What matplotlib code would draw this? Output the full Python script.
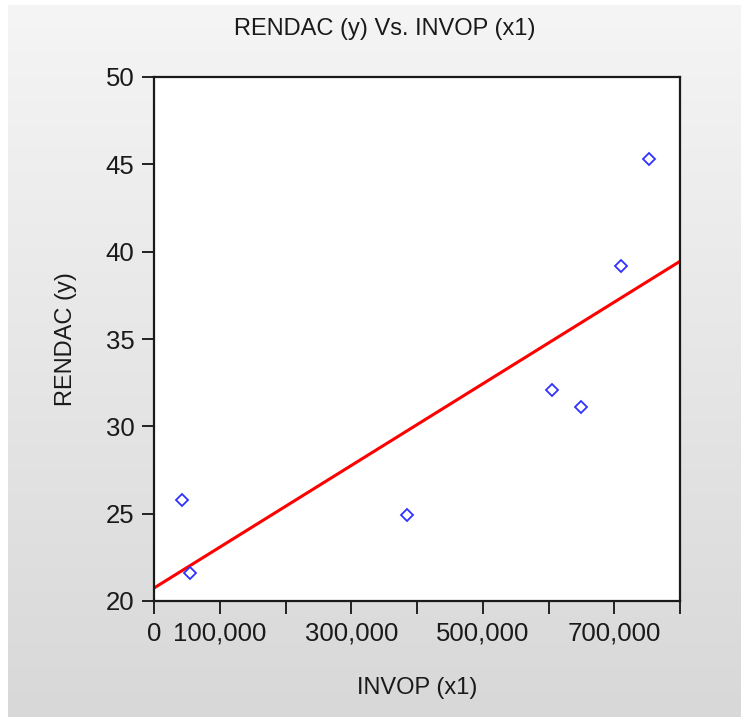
import numpy as np
import matplotlib
matplotlib.use("Agg")
import matplotlib.pyplot as plt
from matplotlib.ticker import FuncFormatter, MultipleLocator

plt.rcParams['font.family'] = ['Liberation Sans', 'DejaVu Sans']

# Data
invop = [42000, 54000, 385000, 605000, 650000, 710000, 753000]
rendac = [25.8, 21.6, 24.9, 32.1, 31.1, 39.2, 45.3]
x_labels_shown = [0, 100000, 300000, 500000, 700000]
title = "RENDAC (y) Vs. INVOP (x1)"
xlabel = "INVOP (x1)"
ylabel = "RENDAC (y)"

W, H = 744, 717
fig = plt.figure(figsize=(W / 100, H / 100), dpi=100)
fig.patch.set_facecolor('white')

# gradient background panel
bg = fig.add_axes([8 / W, 0, (741 - 8) / W, (717 - 5) / H])
grad = np.linspace(0, 1, 256).reshape(-1, 1)
top = np.array([0.960, 0.960, 0.960])
bot = np.array([0.847, 0.847, 0.847])
img = top + (bot - top) * grad[:, :, None] * np.ones((1, 1, 3))
bg.imshow(img, aspect='auto', extent=[0, 1, 0, 1], origin='upper')
bg.set_axis_off()

# main axes
l, r, t, b = 154, 680, 77, 601
ax = fig.add_axes([l / W, 1 - b / H, (r - l) / W, (b - t) / H])
ax.set_facecolor('white')

xs = np.array(invop, dtype=float)
ys = np.array(rendac, dtype=float)
slope, intercept = np.polyfit(xs, ys, 1)
xl = np.array([0, 800000])
ax.plot(xl, slope * xl + intercept, color='#ff0000', lw=2.2, zorder=2, clip_on=True)
ax.plot(xs, ys, linestyle='none', marker='D', markersize=6.5, markerfacecolor='none',
        markeredgecolor='#3030ff', markeredgewidth=1.3, zorder=3)

ax.set_xlim(0, 800000)
ax.set_ylim(20, 50)
ax.xaxis.set_major_locator(MultipleLocator(100000))
ax.yaxis.set_major_locator(MultipleLocator(5))


def xfmt(v, pos):
    v = int(round(v))
    return f"{v:,}" if v in x_labels_shown else ""


ax.xaxis.set_major_formatter(FuncFormatter(xfmt))
ax.yaxis.set_major_formatter(FuncFormatter(lambda v, p: f"{int(round(v))}"))
ax.tick_params(axis='both', direction='out', length=9, width=1.4, colors='#222222',
               labelsize=18.5, labelcolor='#1a1a1a')
ax.tick_params(axis='x', pad=6)
ax.tick_params(axis='y', pad=5)
for s in ax.spines.values():
    s.set_linewidth(1.6)
    s.set_color('#1a1a1a')

fig.text(385 / W, 1 - 29 / H, title, ha='center', va='center', fontsize=17, color='#1a1a1a')
fig.text(417 / W, 1 - 688 / H, xlabel, ha='center', va='center', fontsize=17, color='#1a1a1a')
fig.text(66 / W, 1 - 339 / H, ylabel, ha='center', va='center', rotation=90, fontsize=17,
         color='#1a1a1a')

fig.savefig("out.png", dpi=100, facecolor=fig.get_facecolor())
